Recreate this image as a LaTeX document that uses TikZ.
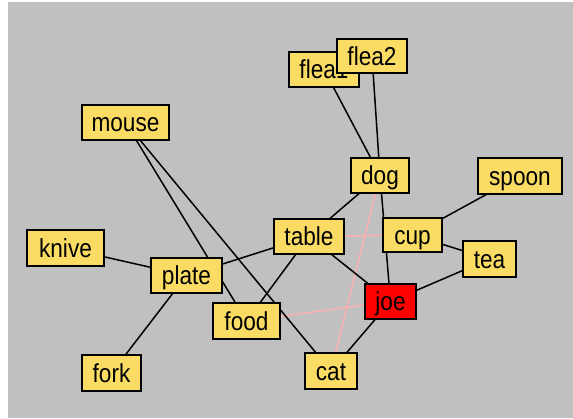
\documentclass[tikz,border=0pt]{standalone}
\usepackage{fontspec}
\setmainfont{Liberation Sans}
\newfontfamily\nodefont[FakeStretch=0.87]{Liberation Sans}
\pgfdeclarelayer{canvas}
\pgfdeclarelayer{links}
\pgfsetlayers{canvas,links,main}
\definecolor{panelgray}{RGB}{192,192,192}
\definecolor{nodeyellow}{RGB}{250,220,100}
\definecolor{hotred}{RGB}{255,0,0}
\definecolor{softpink}{RGB}{255,175,175}
\tikzset{
  item/.style={draw=black, line width=1.9pt, fill=nodeyellow, rectangle,
    inner sep=0pt, text height=22pt, text depth=3pt,
    font=\nodefont\fontsize{26}{26}\selectfont},
  picked/.style={item, fill=hotred},
  link/.style={draw=black, line width=1.5pt},
  faintlink/.style={draw=softpink, line width=1.4pt}
}
\begin{document}
\begin{tikzpicture}[x=1pt, y=-1pt]
\useasboundingbox (0,0) rectangle (573,419);
\begin{pgfonlayer}{canvas}
  \fill[white] (0,0) rectangle (573,419);
  \fill[panelgray] (8,2) rectangle (573,418);
\end{pgfonlayer}

% nodes
\node[item, minimum width=70pt, minimum height=35pt] (flea1) at (324,69.5) {flea1};
\node[item, minimum width=70pt, minimum height=34pt] (flea2) at (372,56) {flea2};
\node[item, minimum width=87pt, minimum height=35pt] (mouse) at (125.5,122.5) {mouse};
\node[item, minimum width=58pt, minimum height=35pt] (dog) at (380,175.5) {dog};
\node[item, minimum width=84pt, minimum height=36pt] (spoon) at (520,176) {spoon};
\node[item, minimum width=70pt, minimum height=35pt] (table) at (309,236.5) {table};
\node[item, minimum width=59pt, minimum height=34pt] (cup) at (412.5,235) {cup};
\node[item, minimum width=77pt, minimum height=36pt] (knive) at (65.5,248) {knive};
\node[item, minimum width=53pt, minimum height=36pt] (tea) at (489.5,259) {tea};
\node[item, minimum width=71pt, minimum height=35pt] (plate) at (186.5,275.5) {plate};
\node[picked, minimum width=51pt, minimum height=35pt] (joe) at (390.5,301.5) {joe};
\node[item, minimum width=67pt, minimum height=36pt] (food) at (246.5,321) {food};
\node[item, minimum width=52pt, minimum height=36pt] (cat) at (331,371) {cat};
\node[item, minimum width=59pt, minimum height=36pt] (fork) at (111.5,373) {fork};

% connectors, centre to centre, beneath the boxes
\begin{pgfonlayer}{links}
  \draw[faintlink] (dog.center) -- (cat.center);
  \draw[faintlink] (table.center) -- (cup.center);
  \draw[faintlink] (food.center) -- (joe.center);

  \draw[link] (flea1.center) -- (dog.center);
  \draw[link] (flea2.center) -- (dog.center);
  \draw[link] (mouse.center) -- (food.center);
  \draw[link] (mouse.center) -- (cat.center);
  \draw[link] (knive.center) -- (plate.center);
  \draw[link] (plate.center) -- (fork.center);
  \draw[link] (plate.center) -- (table.center);
  \draw[link] (table.center) -- (dog.center);
  \draw[link] (table.center) -- (food.center);
  \draw[link] (table.center) -- (joe.center);
  \draw[link] (dog.center) -- (joe.center);
  \draw[link] (cup.center) -- (spoon.center);
  \draw[link] (cup.center) -- (tea.center);
  \draw[link] (joe.center) -- (tea.center);
  \draw[link] (joe.center) -- (cat.center);
\end{pgfonlayer}
\end{tikzpicture}
\end{document}
